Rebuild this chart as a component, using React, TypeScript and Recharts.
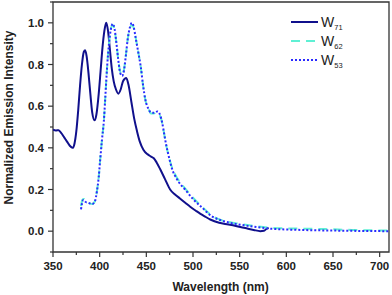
import { LineChart, Line, XAxis, YAxis, Legend, ReferenceArea } from "recharts"

const w71Wavelength = [
  350, 353, 356, 359, 362, 365, 368, 371, 373, 375, 377, 379, 381, 383, 384.5, 386, 388, 390, 392, 394.5,
  396.5, 399, 401, 403, 405, 407, 409, 411, 413, 415, 417.5, 420, 422.5, 425, 428.5, 431, 434, 437, 440, 443,
  447, 451, 455, 458, 461, 465, 470, 475.5, 481, 486, 492, 497, 503, 508, 513, 518.5, 528, 538, 547, 556,
  565, 572, 576, 579, 581,
]
const w71Intensity = [
  0.487, 0.483, 0.485, 0.47, 0.45, 0.43, 0.41, 0.4, 0.42, 0.48, 0.58, 0.7, 0.8, 0.86, 0.868, 0.84, 0.76, 0.66, 0.57, 0.532,
  0.56, 0.66, 0.77, 0.88, 0.96, 1.0, 0.96, 0.87, 0.78, 0.72, 0.68, 0.66, 0.68, 0.72, 0.735, 0.7, 0.62, 0.54, 0.48, 0.43,
  0.39, 0.37, 0.358, 0.35, 0.33, 0.296, 0.25, 0.2, 0.175, 0.157, 0.135, 0.117, 0.098, 0.083, 0.07, 0.056, 0.04, 0.032, 0.024, 0.015,
  0.006, 0.0, 0.002, 0.012, 0.016,
]

const w62Wavelength = [
  380, 381.5, 383, 385, 388, 392, 395, 397, 399, 400.5, 402.5, 404.5, 406, 408, 410, 412, 414, 416, 418, 420,
  422, 424, 426, 428, 430, 432.5, 434.5, 436.5, 438.5, 441.5, 444, 446.5, 449, 452.5, 455, 458, 462, 465, 467, 469,
  471, 474, 477.5, 483, 491.5, 500.5, 510, 520, 529, 547, 565, 584, 604, 620, 642, 670, 710,
]
const w62Intensity = [
  0.12, 0.15, 0.155, 0.14, 0.135, 0.13, 0.145, 0.19, 0.26, 0.34, 0.44, 0.53, 0.64, 0.79, 0.9, 0.97, 0.99, 0.965, 0.9, 0.82,
  0.765, 0.75, 0.775, 0.84, 0.92, 0.975, 0.99, 0.975, 0.93, 0.855, 0.79, 0.7, 0.63, 0.585, 0.565, 0.565, 0.57, 0.55, 0.52, 0.47,
  0.42, 0.36, 0.305, 0.255, 0.205, 0.158, 0.116, 0.075, 0.055, 0.037, 0.025, 0.016, 0.013, 0.012, 0.01, 0.006, 0.003,
]

const w53Wavelength = [
  380, 382.5, 385, 388, 392, 395, 397, 399, 400.5, 402.5, 404.5, 406, 408, 410, 412, 414, 416, 418, 420, 422,
  424, 426, 428, 430, 432.5, 434.5, 436.5, 438.5, 441.5, 444, 446.5, 449, 452.5, 455, 458, 462, 465, 467, 469, 471,
  474, 477.5, 483, 491.5, 500.5, 510, 520, 527.5, 540, 561.5, 583, 615, 650, 680, 710,
]
const w53Intensity = [
  0.105, 0.15, 0.14, 0.136, 0.13, 0.145, 0.19, 0.26, 0.34, 0.44, 0.53, 0.64, 0.79, 0.9, 0.97, 0.995, 0.97, 0.9, 0.82, 0.76,
  0.745, 0.77, 0.84, 0.92, 0.98, 1.0, 0.98, 0.93, 0.855, 0.79, 0.7, 0.63, 0.585, 0.57, 0.568, 0.575, 0.555, 0.52, 0.47, 0.42,
  0.36, 0.3, 0.248, 0.2, 0.152, 0.112, 0.072, 0.056, 0.04, 0.024, 0.012, 0.006, 0.003, 0.001, 0.0,
]

const xTicks = [350, 375, 400, 425, 450, 475, 500, 525, 550, 575, 600, 625, 650, 675, 700]
const xLabels = [350, 400, 450, 500, 550, 600, 650, 700]
const yTicks = [-0.1, 0, 0.1, 0.2, 0.3, 0.4, 0.5, 0.6, 0.7, 0.8, 0.9, 1.0, 1.1]
const yLabels = ["0.0", "0.2", "0.4", "0.6", "0.8", "1.0"]

const toPoints = (xs: number[], ys: number[]) => xs.map((x, i) => ({ x, y: ys[i] }))

const series = [
  { name: "W", sub: "71", color: "#10108c", dash: undefined, data: toPoints(w71Wavelength, w71Intensity) },
  { name: "W", sub: "62", color: "#5ff0d4", dash: "9 6", data: toPoints(w62Wavelength, w62Intensity) },
  { name: "W", sub: "53", color: "#2a2aff", dash: "2 2", data: toPoints(w53Wavelength, w53Intensity) },
]

const font = "'Liberation Sans', Arial, sans-serif"
const axisColor = "#333"

function XTick({ x, y, payload }: any) {
  const major = xLabels.includes(payload.value)
  return (
    <g>
      <line x1={x} y1={y} x2={x} y2={y + (major ? 5 : 3)} stroke={axisColor} strokeWidth={1.2} />
      {major && (
        <text x={x} y={y + 18} textAnchor="middle" fontFamily={font} fontSize={11.5} fontWeight="bold" fill="#222">
          {payload.value}
        </text>
      )}
    </g>
  )
}

function YTick({ x, y, payload }: any) {
  const label = Number(payload.value).toFixed(1)
  const major = yLabels.includes(label)
  return (
    <g>
      <line x1={x} y1={y} x2={x - (major ? 5 : 3)} y2={y} stroke={axisColor} strokeWidth={1.2} />
      {major && (
        <text x={x - 9} y={y + 4} textAnchor="end" fontFamily={font} fontSize={11.5} fontWeight="bold" fill="#222">
          {label}
        </text>
      )}
    </g>
  )
}

function XLabel() {
  return (
    <text x={220.6} y={291} textAnchor="middle" fontFamily={font} fontSize={12} fontWeight="bold" fill="#222">
      Wavelength (nm)
    </text>
  )
}

function YLabel() {
  return (
    <text
      x={13}
      y={117.5}
      transform="rotate(-90 13 117.5)"
      textAnchor="middle"
      fontFamily={font}
      fontSize={12}
      fontWeight="bold"
      fill="#222"
    >
      Normalized Emission Intensity
    </text>
  )
}

function LegendBox() {
  return (
    <svg width={90} height={60}>
      {series.map((s, i) => {
        const cy = 10 + i * 19
        return (
          <g key={s.sub}>
            <line x1={3} y1={cy} x2={30} y2={cy} stroke={s.color} strokeWidth={2} strokeDasharray={s.dash} />
            <text x={33} y={cy + 5} fontFamily={font} fontSize={14} fill="#222">
              {s.name}
              <tspan fontSize={7.5} dy={3}>
                {s.sub}
              </tspan>
            </text>
          </g>
        )
      })}
    </svg>
  )
}

export default function App() {
  return (
    <div style={{ position: "absolute", left: 0, top: 0, background: "#fff" }}>
      <LineChart width={392} height={295} margin={{ top: 2, right: 3, left: 1, bottom: 0 }}>
        <XAxis
          type="number"
          dataKey="x"
          domain={[350, 710]}
          ticks={xTicks}
          interval={0}
          tick={<XTick />}
          tickSize={0}
          tickMargin={0}
          axisLine={false}
          tickLine={false}
          height={43}
          allowDataOverflow
          label={<XLabel />}
        />
        <YAxis
          type="number"
          domain={[-0.1, 1.1]}
          ticks={yTicks}
          interval={0}
          tick={<YTick />}
          tickSize={0}
          tickMargin={0}
          axisLine={false}
          tickLine={false}
          width={52}
          allowDataOverflow
          label={<YLabel />}
        />
        <ReferenceArea x1={350} x2={710} y1={-0.1} y2={1.1} fill="none" stroke={axisColor} strokeWidth={1.3} />
        {series.map((s) => (
          <Line
            key={s.sub}
            data={s.data}
            dataKey="y"
            name={s.name + s.sub}
            type="monotone"
            stroke={s.color}
            strokeWidth={2}
            strokeDasharray={s.dash}
            dot={false}
            isAnimationActive={false}
          />
        ))}
        <Legend
          layout="horizontal"
          verticalAlign="middle"
          align="center"
          content={<LegendBox />}
          wrapperStyle={{ position: "absolute", left: 288, top: 12, width: 90 }}
        />
      </LineChart>
    </div>
  )
}
